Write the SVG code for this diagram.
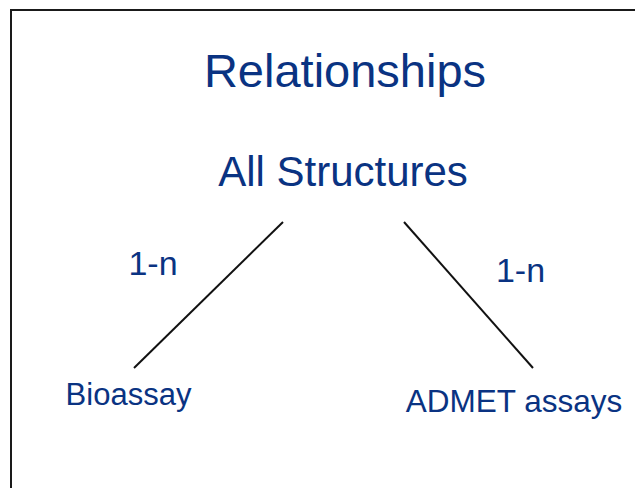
<svg xmlns="http://www.w3.org/2000/svg" width="635" height="488" viewBox="0 0 635 488">
<style>
.t{font-family:"Liberation Sans",Arial,sans-serif;fill:#0a3382;text-anchor:middle}
.c{stroke:#111;stroke-width:2;fill:none}
</style>
<rect x="0" y="0" width="635" height="488" fill="#fff"/>
<rect x="11" y="10" width="640" height="500" fill="#fff" stroke="#1a1a1a" stroke-width="2"/>
<g id="title"><text class="t" x="345" y="87" font-size="47">Relationships</text></g>
<g id="all-structures"><text class="t" x="343" y="186" font-size="42">All Structures</text></g>
<g id="bioassay"><text class="t" x="128.5" y="405" font-size="31">Bioassay</text></g>
<g id="admet"><text class="t" x="514" y="412" font-size="31.5">ADMET assays</text></g>
<g id="connectors">
<line class="c" x1="283" y1="222" x2="134" y2="368"/>
<line class="c" x1="404" y1="222" x2="533" y2="368"/>
<text class="t" x="153" y="275" font-size="34">1-n</text>
<text class="t" x="520.5" y="282" font-size="34">1-n</text>
</g>
</svg>
